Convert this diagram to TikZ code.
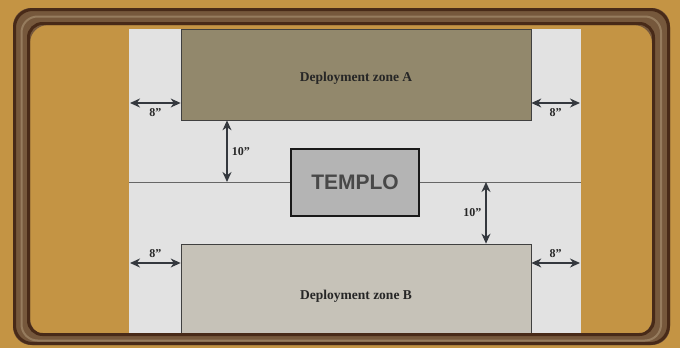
\documentclass[tikz,border=0pt]{standalone}
\usepackage{fontspec}
\setmainfont{Liberation Serif}
\newfontfamily\templofont{Liberation Sans}
\usetikzlibrary{arrows.meta}
\definecolor{parchment}{RGB}{196,148,68}
\definecolor{framebrown}{RGB}{118,88,60}
\definecolor{framedark}{RGB}{72,42,24}
\definecolor{framelight}{RGB}{150,124,94}
\definecolor{boardgrey}{RGB}{226,226,226}
\definecolor{zoneAcol}{RGB}{146,136,108}
\definecolor{zoneBcol}{RGB}{198,194,184}
\definecolor{templocol}{RGB}{180,180,180}
\definecolor{dimcol}{RGB}{52,56,62}
\begin{document}
\begin{tikzpicture}[x=1pt,y=-1pt,
  zone/.style={draw=black!75, line width=0.7pt, inner sep=0pt,
    minimum width=350, minimum height=91,
    font=\fontsize{13.5}{15}\selectfont\bfseries, text=black!85},
  dim/.style={{Stealth[length=10pt,width=9pt]}-{Stealth[length=10pt,width=9pt]},
    line width=1.5pt, draw=dimcol},
  dimlabel/.style={font=\fontsize{12}{13}\selectfont\bfseries, text=black!85, inner sep=2pt}]
\useasboundingbox (0,0) rectangle (680,348);
\fill[parchment] (0,0) rectangle (680,348);
% the board
\node[fill=boardgrey, inner sep=0pt, minimum width=452, minimum height=306] (board) at (355,182) {};
\draw[black!60, line width=0.6pt] (board.west) -- (board.east);
\node[zone, fill=zoneAcol, text height=14pt, text depth=0pt] (zoneA) at (356,74.5) {Deployment zone A};
\node[zone, fill=zoneBcol, text height=20pt, text depth=0pt] (zoneB) at (356,289.5) {Deployment zone B};
\node[draw=black!90, fill=templocol, line width=2pt, minimum width=128, minimum height=67,
  font=\templofont\fontsize{21}{23}\selectfont\bfseries, text={rgb,255:red,72;green,72;blue,72}]
  (templo) at (355,182.5) {TEMPLO};
% frame
\fill[framebrown, rounded corners=18, even odd rule] (13,8) rectangle (670,345) (30,25) rectangle (652,336);
\draw[framelight, line width=2pt, rounded corners=16] (21.5,16.5) rectangle (661,340.5);
\draw[framedark, line width=3pt, rounded corners=18] (14.5,9.5) rectangle (668.5,343.5);
\draw[framedark, line width=3pt, rounded corners=14] (28.5,23.5) rectangle (653.5,334.5);
\fill[boardgrey] (board.north west) rectangle (130,29);
% distances
\coordinate (topL) at (130,103);
\coordinate (topR) at (580,103);
\coordinate (botL) at (130,263);
\coordinate (botR) at (580,263);
\coordinate (midL) at (227,182);
\coordinate (midR) at (486,182);
\draw[dim] (topL) -- (zoneA.west |- topL) node[dimlabel, midway, below=3pt] {8”};
\draw[dim] (zoneA.east |- topR) -- (topR) node[dimlabel, midway, below=3pt] {8”};
\draw[dim] (botL) -- (zoneB.west |- botL) node[dimlabel, midway, above=3pt] {8”};
\draw[dim] (zoneB.east |- botR) -- (botR) node[dimlabel, midway, above=3pt] {8”};
\draw[dim] (midL |- zoneA.south) -- (midL) node[dimlabel, midway, right=2pt] {10”};
\draw[dim] (midR) -- (midR |- zoneB.north) node[dimlabel, midway, left=2pt] {10”};
\end{tikzpicture}
\end{document}
